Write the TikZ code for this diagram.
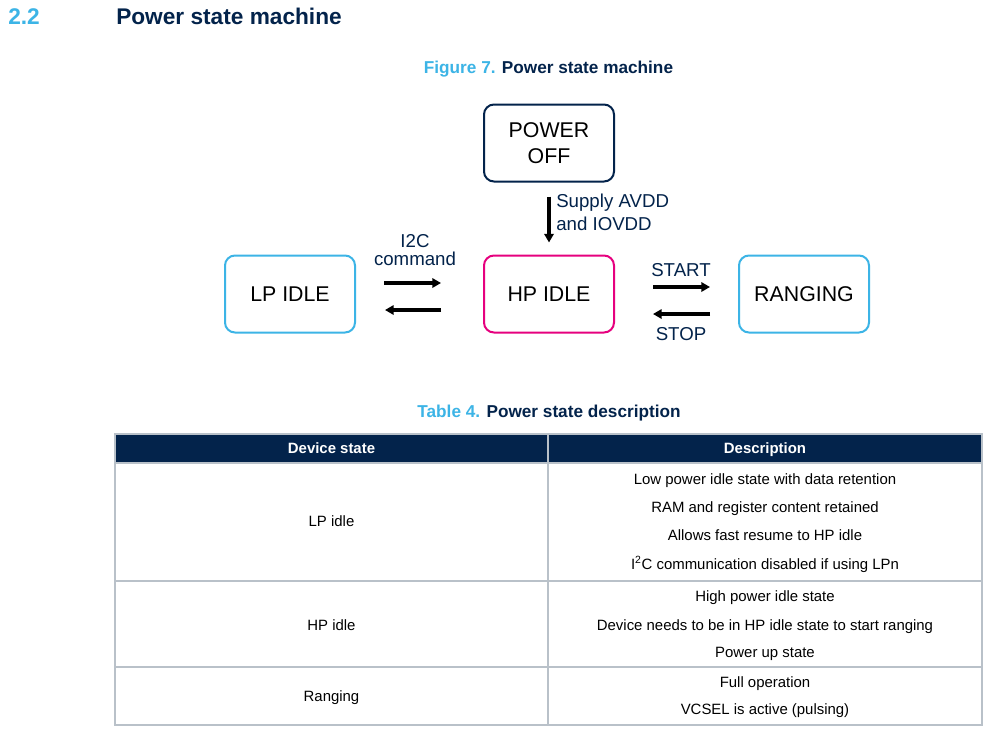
\documentclass[tikz,border=0pt]{standalone}
\usepackage{fontspec}
\setmainfont{Liberation Sans}
\usetikzlibrary{arrows.meta, positioning}
\definecolor{stnavy}{HTML}{03234B}
\definecolor{stblue}{HTML}{3CB4E6}
\definecolor{stpink}{HTML}{E6007E}
\definecolor{gridgray}{HTML}{B9C1C9}

\begin{document}
\begin{tikzpicture}[x=0.75pt, y=-0.75pt,
  state/.style={draw, line width=1.5pt, rounded corners=7.5pt, minimum width=97.5pt,
    minimum height=57.75pt, align=center, text=black, font=\fontsize{16}{19.5}\selectfont},
  lbl/.style={inner sep=0pt, align=center, text=stnavy, font=\fontsize{14}{14}\selectfont},
  arr/.style={line width=2.3pt, -{Triangle[length=6.5pt,width=7pt]}},
  cell/.style={anchor=base, inner sep=0pt, text=black, font=\fontsize{11.2}{13}\selectfont},
  head/.style={anchor=base, inner sep=0pt, font=\bfseries\fontsize{12.9}{15}\selectfont}]
  \fill[white] (0,0) rectangle (992,732);
  \useasboundingbox (0,0) rectangle (992,732);

  % headings
  \node[anchor=base west, inner sep=0pt, text=stblue, font=\bfseries\fontsize{17}{20}\selectfont]
    (secnum) at (8,24) {2.2};
  \node[anchor=base west, inner sep=0pt, text=stnavy, font=\bfseries\fontsize{17}{20}\selectfont]
    (sectitle) at (116,24) {Power state machine};
  \node[head] (figcap) at (548.5,73) {\textcolor{stblue}{Figure 7.} \textcolor{stnavy}{Power state machine}};

  % states
  \node[state, draw=stnavy] (poweroff) at (549,143) {POWER\\OFF};
  \node[state, draw=stblue] (lp) at (290,294) {LP IDLE};
  \node[state, draw=stpink] (hp) at (549,294) {HP IDLE};
  \node[state, draw=stblue] (ranging) at (804,294) {RANGING};

  % transitions
  \draw[arr, shorten <=10.5pt, shorten >=9pt] (poweroff.south) -- (hp.north);
  \node[lbl, anchor=west, align=left, font=\fontsize{14}{17.25}\selectfont] (supply) at (556,212)
    {Supply AVDD\\and IOVDD};
  \draw[arr, shorten <=21pt, shorten >=31.5pt] ([yshift=8.25pt]lp.east) -- ([yshift=8.25pt]hp.west);
  \draw[arr, shorten <=31.5pt, shorten >=21.75pt] ([yshift=-12pt]hp.west) -- ([yshift=-12pt]lp.east);
  \node[lbl] (i2c) at (415,250) {I2C\\command};
  \draw[arr, shorten <=28.5pt, shorten >=21pt] ([yshift=5.25pt]hp.east) -- ([yshift=5.25pt]ranging.west);
  \draw[arr, shorten <=21pt, shorten >=28.5pt] ([yshift=-15pt]ranging.west) -- ([yshift=-15pt]hp.east);
  \node[lbl, anchor=base] (start) at (681,276) {START};
  \node[lbl, anchor=base] (stop) at (681,340) {STOP};

  % table
  \node[head] (tabcap) at (549,417) {\textcolor{stblue}{Table 4.} \textcolor{stnavy}{Power state description}};
  \fill[stnavy] (115,434) rectangle (982,463);
  \draw[gridgray, line width=0.8pt] (115,434) rectangle (982,725);
  \draw[gridgray, line width=0.8pt] (548,434) -- (548,725);
  \foreach \y in {463,581,667}
    \draw[gridgray, line width=0.8pt] (115,\y) -- (982,\y);
  \node[cell, text=white, font=\bfseries\fontsize{11.2}{13}\selectfont] (hstate) at (331.5,453) {Device state};
  \node[cell, text=white, font=\bfseries\fontsize{11.2}{13}\selectfont] (hdesc) at (765,453) {Description};

  \node[cell] (tlp) at (331.5,526) {LP idle};
  \node[cell] (tlpa) at (765,484) {Low power idle state with data retention};
  \node[cell] (tlpb) at (765,512) {RAM and register content retained};
  \node[cell] (tlpc) at (765,540) {Allows fast resume to HP idle};
  \node[cell] (tlpd) at (765,569) {I\textsuperscript{2}C communication disabled if using LPn};

  \node[cell] (thp) at (331.5,630) {HP idle};
  \node[cell] (thpa) at (765,601) {High power idle state};
  \node[cell] (thpb) at (765,630) {Device needs to be in HP idle state to start ranging};
  \node[cell] (thpc) at (765,657) {Power up state};

  \node[cell] (trg) at (331.5,701) {Ranging};
  \node[cell] (trga) at (765,687) {Full operation};
  \node[cell] (trgb) at (765,714) {VCSEL is active (pulsing)};
\end{tikzpicture}
\end{document}
